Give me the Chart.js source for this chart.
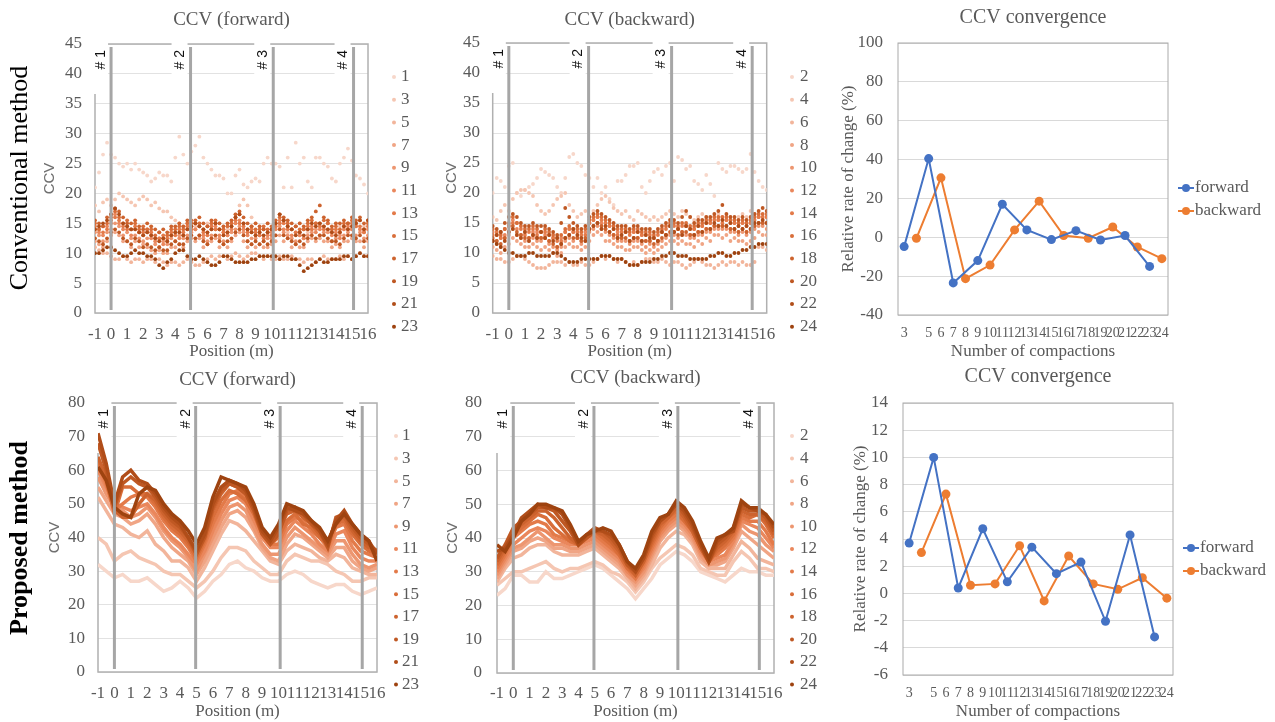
<!DOCTYPE html>
<html>
<head>
<meta charset="utf-8">
<script src="https://cdn.jsdelivr.net/npm/chart.js@4.4.0/dist/chart.umd.min.js"></script>
<style>
  html, body { margin: 0; padding: 0; background: #fff; }
  #wrap { position: relative; width: 1275px; height: 722px; overflow: hidden; background: #fff; }
  canvas { position: absolute; }
</style>
</head>
<body>
<div id="wrap">
  <canvas id="ccvConvFwd" width="420" height="362" style="left:0px;top:0px"></canvas>
  <canvas id="ccvConvBwd" width="420" height="362" style="left:420px;top:0px"></canvas>
  <canvas id="rateConv" width="445" height="362" style="left:830px;top:0px"></canvas>
  <canvas id="ccvPropFwd" width="420" height="362" style="left:0px;top:360px"></canvas>
  <canvas id="ccvPropBwd" width="420" height="362" style="left:420px;top:360px"></canvas>
  <canvas id="rateProp" width="445" height="362" style="left:830px;top:360px"></canvas>
</div>
<script>
// ---- data ----
// positions along the lane (m)
const posFine = [-1,-0.75,-0.5,-0.25,0,0.25,0.5,0.75,1,1.25,1.5,1.75,2,2.25,2.5,2.75,3,3.25,3.5,3.75,4,4.25,4.5,4.75,5,5.25,5.5,5.75,6,6.25,6.5,6.75,7,7.25,7.5,7.75,8,8.25,8.5,8.75,9,9.25,9.5,9.75,10,10.25,10.5,10.75,11,11.25,11.5,11.75,12,12.25,12.5,12.75,13,13.25,13.5,13.75,14,14.25,14.5,14.75,15,15.25,15.5,15.75,16];
const posCoarse = [-1,-0.5,0,0.5,1,1.5,2,2.5,3,3.5,4,4.5,5,5.5,6,6.5,7,7.5,8,8.5,9,9.5,10,10.5,11,11.5,12,12.5,13,13.5,14,14.5,15,15.5,16];

const fwdPasses = ['1','3','5','7','9','11','13','15','17','19','21','23'];
const bwdPasses = ['2','4','6','8','10','12','14','16','18','20','22','24'];
const sectionPos = [0, 4.95, 10.1, 15.1];
const sectionNames = ['# 1', '# 2', '# 3', '# 4'];

// conventional method, forward passes
const convF1 = [21,23.5,26.5,28.5,26.5,26,25,24.5,25,24,25,24,23.5,23,22,22.5,23.5,23,23,22,26,29.5,26.5,25,27,28,29.5,26,25,24,23,23,22.5,20,20,23,24,21.5,21,22,22.5,22,25,26,25,25,24.5,21,26,21,28.5,25,26,22,21,26,26,25,24.5,22.5,22,25,26,27.5,25.5,23,22.5,21.5,20];
const convF3 = [18,17,18.5,19,18,19,20,19.5,19,18.5,18,19,19.5,19,18,18.5,17.5,17,17,16,15.5,15,14.5,15,14,14.5,15,14,15,14.5,14,15,14.5,14,15,16.5,18,19,18,16,15,14.5,14,15,14,14.5,15,14,13.5,14,14.5,15,14,13.5,14,15,14.5,14,13.5,14,15,14.5,14,15,14.5,15,14,14.5,15];
const convF5 = [11,10.5,10,10,9.5,9,9,9.5,9,8.5,9,9,8.5,9,9,8.5,9,8.5,8,8.5,8.5,8,8.5,9,8.5,8,8,8.5,9,9.5,9,9.5,9.5,9,9.5,10,9.5,9,9.5,10,10,9.5,9,9.5,9,9,9.5,9,9,9.5,9,9,8.5,9,9,8.5,9,9.5,9,9,9,9.5,9,9.5,9,9.5,10,9.5,9.5];
const convF7 = [12,11.5,11,12,13,13.5,13,12,12,11,12,11,11.5,11,10.5,10,10.5,10,10,11,11,11.5,11,12,12.5,12,12.5,11,11.5,12,12.5,11,11.5,11,12,13,13.5,12,11,11.5,11,11.5,11,11,11.5,12,13,12,12.5,11,11.5,11,11,12,12.5,12,12.5,12,12,11,11.5,11,12,12,12.5,12,12,11,12];
const convF9 = [13.5,13,12,13.5,14,15,14.5,13,13.5,12.5,13,12.5,12,12.5,13,11.5,11,12,11.5,12.5,12,13,12.5,13,13.5,14,13,12.5,12,13,14,12.5,12,13,13.5,14,14.5,13.5,12,12.5,12.5,13,12,12.5,12.5,13,14.5,13.5,13,12.5,12,13,12.5,13,13.5,14,13,13.5,13.5,12,12.5,13,13,13.5,14,13,13.5,12.5,13];
const convF11 = [14,13.5,13,14.5,15,16.5,15,14,14.5,13,14,13.5,13,13.5,12.5,12,12.5,11.5,12,13,13.5,12.5,13,14,14.5,14,14.5,13,13.5,14,14.5,13,13.5,13,14,15,15.5,14,13,13.5,13,13.5,12.5,13,13.5,14,15.5,14,14.5,13,13.5,13,12.5,14,14.5,13.5,14,14.5,14,13,13.5,12.5,14,14.5,14,14.5,14,13.5,14];
const convF13 = [14.5,14,13.5,14,15.5,16,15.5,14.5,14,14,14.5,13.5,13.5,14,13.5,12.5,12.5,13,12.5,13.5,13,14,13.5,14.5,14,15,14.5,13.5,13,14.5,14,14,13.5,13.5,14.5,15.5,15,14.5,13.5,14,13.5,13,14,13.5,13,14.5,15,15,14,14,13.5,13.5,14,14.5,14,15,14.5,14,15,13.5,14,13.5,14.5,14,15,14.5,14.5,13.5,14.5];
const convF15 = [15,14,14.5,15,16,17,16,15,15.5,14,15,14,14.5,14,14,13,13.5,12.5,13,14,14,14.5,14,15,15.5,15,15,14,14.5,15,15.5,14,14,14.5,15,16,16.5,15,14,14.5,14,14,14.5,14,14,15,16,15.5,15,14,14.5,14,14,15,15.5,15,15,15.5,15,14,14.5,14,15,15,15.5,15,15.5,14,15];
const convF17 = [15.5,15,14.5,16,16.5,17.5,17,16,15,15,15.5,14.5,14,15,14.5,14,13.5,14,13.5,14.5,14.5,15,14.5,15.5,15,15.5,16,15,14.5,15.5,15,15,14.5,15,15.5,16.5,17,16,15,14.5,15,14.5,14,15,14.5,15.5,16.5,16,15.5,15,14.5,15,14.5,15.5,16,17,18,16,15.5,14.5,15,15,15.5,15,16,15.5,16,15,15.5];
const convF19 = [12.5,12,11.5,12.5,13.5,14,13.5,12.5,12,11.5,12.5,12,11,11.5,11,10.5,11,10.5,10.5,11.5,12,11.5,11.5,12.5,13,12.5,13,12,11.5,12.5,13,12,11.5,12,12.5,13.5,14,13,12,11.5,12,11.5,12,11.5,12,13,14,13,12.5,12,11.5,12,11.5,12.5,13,12.5,13,13,12.5,12,12,11.5,12.5,13,13,12.5,13,12,12.5];
const convF21 = [14,14.5,15,15.5,16.5,17.5,16.5,15,14.5,14,14,13.5,13,13.5,13,12.5,12,12.5,12,13,13.5,13.5,13,14,14.5,15,14.5,14,13.5,14,15,14,13,13.5,14.5,16,16.5,15,14,13.5,13,13.5,13,13.5,14,15,16.5,15.5,14.5,14,13,13.5,13,14,15,14.5,15,14.5,14,13.5,13,13.5,14.5,14,14.5,15,15.5,14,15.5];
const convF23 = [10,10,10.5,11,11,10.5,10,9.5,9.5,10,10.5,10,10,9.5,9.5,9,8,7.5,8.5,9,10,10.5,10.5,9.5,9,9,9.5,9,8.5,8,8,8.5,9.5,9.5,9,8.5,8.5,8.5,8.5,9,9,9.5,9.5,9.5,9.5,9.5,9,9.5,9.5,9,9,8,7,7.5,8,8.5,9,8.5,8.5,9,9,9,9.5,9.5,9,9.5,10,9.5,9.5];

// conventional method, backward passes
const convB2 = [20,22.5,22,21,24.5,25,20,19.5,20.5,21,21.5,22.5,24,23.5,23,22.5,21,20,22.5,26,26.5,25,24.5,23,22.5,21,22.5,20,21,19,18,22,22,23,24.5,24.5,25,21,20,22,23.5,24,23,24.5,25,22,26,25.5,24,24.5,22,21.5,20.5,23,21.5,19.5,25,24,23.5,24.5,24.5,24,23.5,24,26.5,23.5,22,21,20.5];
const convB4 = [16,15.5,17,18,17,19,20,20.5,20.5,20,19.5,18,17,16.5,17,18,19,19.5,20,18,17,16,16.5,17,16,17,18,19,19.5,18.5,17.5,17,16.5,17,16,15.5,17,16.5,16,15.5,16,15.5,16,16.5,17,16.5,16,17,16.5,16,15.5,16,16.5,16,15.5,16,16.5,16,15.5,16,15.5,16,16.5,16,17,16.5,16,15.5,16];
const convB6 = [9.5,9,9,8.5,8.5,9,9.5,9.5,9,8.5,8,7.5,7.5,7.5,8,8.5,8.5,8.5,8,8.5,8,8,8.5,8,8,8.5,9,9.5,9,9.5,9,8.5,9,8.5,8,8.5,8,8.5,9,9,8.5,8.5,9,8.5,8,8.5,8.5,8,7.5,8,8.5,9,8.5,8,8,7.5,8,8.5,8,8.5,8.5,8,8.5,8,8,8.5,11,11,10.5];
const convB8 = [11,10.5,10,11,11.5,12.5,12,11.5,11,11,11.5,11,10.5,11,10.5,10,9.5,10,11,11.5,11,11,10.5,11,12,13,13.5,13,12,12,11.5,11,11,10.5,10.5,11,11,10.5,10,10.5,10,10.5,11,11.5,12,12,11.5,12,11.5,11.5,11,12,11.5,12.5,12,13,13,12.5,13,12,12.5,12,12,11.5,12,12.5,13.5,13,13];
const convB10 = [12,11.5,11,12.5,13,14,13,12.5,12,12,12.5,12,12,12.5,11.5,11,10.5,11,12,12.5,12,12.5,11.5,12,13.5,14,14.5,14,13.5,13,12.5,12,12,12,11.5,12,12,11.5,11,11.5,11,11.5,12,12.5,13,13,12.5,13,13,12.5,12.5,13,13,13.5,13.5,14,14,14,14,13.5,13.5,13,13.5,13,13.5,14,14.5,14.5,14];
const convB12 = [13.5,12,12.5,13,14.5,15.5,14,13,13.5,12.5,13.5,13.5,12.5,13,12,12.5,11,12.5,13.5,14,13.5,12.5,12,13.5,15,15.5,16,15,14,14.5,13,13.5,12.5,13.5,12,13.5,12.5,13,12,12,12.5,12,13.5,13,14.5,13.5,14,13.5,14.5,13,14,13.5,14.5,14,15,14.5,15.5,14.5,15.5,14,15,13.5,15,13.5,15,14.5,16,15,16];
const convB14 = [13,13.5,12.5,14,14.5,15,15,14,13,13.5,14,13,13.5,13.5,13,12.5,12,12,13.5,14,13.5,13.5,13,13,15,15.5,16,15.5,15,14.5,14,13,13.5,13.5,13,13.5,13.5,13,13,13,12.5,13,13.5,14,14.5,14.5,14,14.5,14.5,14,14,14.5,14.5,15,15,15.5,15.5,15,15.5,15,15,14.5,15,14.5,15,15.5,16,16,16];
const convB16 = [14,13,13,14,15,16,15,14.5,14,14,14.5,14,13.5,14,13.5,13,12.5,13,14,14.5,14,14,13.5,14,15.5,16,16.5,16,15.5,15,14.5,14,14,14,13.5,14,14,13.5,13.5,13.5,13,13.5,14,14.5,15,15,14.5,15,15,14.5,14.5,15,15,15.5,15.5,16,16,16,16,15.5,15.5,15,15.5,15,15.5,16,16.5,16.5,16.5];
const convB18 = [12.5,12,11.5,12.5,13.5,14.5,13.5,13,12.5,12.5,13,12.5,12.5,12.5,12,11.5,11,11.5,12.5,13,12.5,12.5,12,12.5,14,14.5,15,14.5,14,13.5,13,12.5,12.5,12.5,12,12.5,12.5,12,12,12,11.5,12,12.5,13,13.5,13.5,13,13.5,13.5,13,13,13.5,13.5,14,14,14.5,14.5,14.5,14.5,14,14,13.5,14,13.5,14,14.5,15,15,15];
const convB20 = [14.5,14,13.5,15,16,16.5,16,15,14.5,14.5,15,14.5,14.5,14.5,14,13.5,13,15,17.5,16,15,14.5,14,14.5,16,16.5,17,16.5,16,15.5,15,14.5,14.5,14.5,14,14.5,14.5,14,14,14,13.5,14,14.5,15,15.5,15.5,15,16,17,16,15,15.5,15.5,16,16,16.5,17,18,16.5,16,16,15.5,16,15.5,16,16.5,17,17.5,17];
const convB22 = [12,13,13.5,12,13.5,14,13,12.5,13.5,12,13,12.5,13.5,12.5,13,12,12.5,11.5,12.5,13,14,13,12.5,12,14,14.5,15,14,14.5,13.5,14,12.5,13,13.5,12,12.5,13.5,12,13,12.5,12.5,12,13.5,13,14.5,13.5,14,13,14.5,14,13,14.5,13.5,15,14,15,14.5,15.5,14.5,15,14,14.5,14,14.5,14,15,15,15.5,15];
const convB24 = [12,11.5,11,10.5,10,10,9.5,9.5,9.5,10,10,9.5,9.5,9.5,9.5,10,10,9.5,9,8.5,8.5,8.5,9,9,9,9,9,9.5,9.5,9.5,9,9,9,8.5,8,8,8,8.5,8.5,8.5,9,9,9.5,9.5,10,10,9.5,9.5,9.5,9,9,9,9,9,9.5,9.5,10,10,9.5,9.5,10,10,10.5,10.5,11,11,11.5,11.5,11.5];

// proposed method, forward passes
const propF1 = [32,30,28,29,27,27,28,26,24,25,27,25,22,24,27,29,32,33,31,30,28,27,27,29,30,29,27,26,25,26,26,24,23,24,25];
const propF3 = [40,38,33,35,36,34,33,32,30,29,29,27,25,27,30,34,37,37,36,33,31,29,29,33,35,34,33,33,32,30,29,27,27,28,28];
const propF5 = [52,48,44,43,41,40,42,38,36,33,33,31,27,31,36,41,45,44,42,39,36,33,32,36,38,37,36,34,33,35,34,31,30,29,29];
const propF7 = [55,51,47,46,44,45,47,44,40,37,35,33,29,33,38,43,47,48,46,42,37,34,33,38,41,40,38,36,34,37,37,33,31,30,31];
const propF9 = [58,53,49,48,46,47,49,46,42,39,37,34,30,35,40,45,49,50,48,43,38,35,35,40,43,41,39,37,35,39,39,35,32,31,32];
const propF11 = [60,55,50,49,48,49,50,47,43,40,38,35,32,36,42,47,51,52,50,45,40,37,37,42,45,43,41,38,36,41,42,37,34,33,33];
const propF13 = [62,56,48,50,52,53,52,49,45,42,40,37,33,38,44,49,53,54,52,47,41,38,38,44,46,45,42,40,37,43,44,39,36,35,34];
const propF15 = [63,57,47,55,55,53,53,50,46,43,41,38,34,39,46,51,54,53,51,47,41,38,40,45,47,44,43,40,38,44,45,41,38,36,35];
const propF17 = [64,58,48,46,46,50,53,51,47,44,42,39,35,40,48,53,56,55,53,48,42,39,42,47,48,46,44,41,38,45,46,42,39,37,36];
const propF19 = [68,60,49,56,58,56,55,52,48,45,43,40,35,40,49,54,56,55,53,48,41,38,41,48,49,47,44,42,37,46,47,43,40,38,36];
const propF21 = [71,62,50,58,60,57,56,53,49,46,44,40,36,41,50,55,57,56,54,49,42,39,43,49,48,47,45,42,38,45,48,44,41,39,35];
const propF23 = [61,57,49,47,46,53,55,54,50,47,45,42,38,43,52,58,57,56,55,50,43,40,44,50,49,48,45,43,39,44,47,44,41,39,33];

// proposed method, backward passes
const propB2 = [23,25,29,29,27,27,30,28,28,29,30,31,32,31,29,27,25,22,25,28,32,34,36,35,33,30,29,28,27,29,31,30,30,29,29];
const propB4 = [26,28,30,30,31,32,33,31,30,31,31,32,33,32,30,29,27,24,27,31,34,36,38,37,35,31,30,29,29,33,36,34,31,31,30];
const propB6 = [27,31,34,35,37,38,38,36,35,35,35,36,37,35,33,31,28,25,28,32,37,40,42,41,38,33,31,31,31,35,39,37,34,33,32];
const propB8 = [28,32,36,37,39,40,39,37,37,36,36,37,38,36,34,32,29,26,29,34,39,42,44,42,39,34,32,32,33,37,42,40,38,36,34];
const propB10 = [29,33,37,38,40,42,40,38,38,37,37,38,39,37,35,33,29,27,30,35,40,43,45,43,40,35,32,33,34,38,44,42,41,38,36];
const propB12 = [30,34,38,40,42,43,42,40,39,38,38,39,40,38,36,34,30,28,31,36,41,44,46,44,41,36,33,34,35,39,45,44,43,40,37];
const propB14 = [31,35,40,42,44,45,44,41,40,39,39,40,41,39,37,35,31,28,32,37,42,45,47,45,42,37,34,35,37,40,46,45,45,42,38];
const propB16 = [32,36,41,43,45,47,46,43,41,39,38,40,42,40,38,35,31,29,33,38,43,46,48,45,42,37,33,36,38,41,47,46,47,44,40];
const propB18 = [33,37,42,44,46,48,48,46,43,40,38,40,42,41,39,36,32,29,33,39,44,46,49,46,42,37,33,37,39,42,48,47,47,45,41];
const propB20 = [34,38,43,45,47,49,49,48,45,42,38,40,42,42,40,37,32,30,34,40,45,47,50,47,43,38,33,38,40,43,49,48,48,46,42];
const propB22 = [36,37,41,46,48,50,49,49,47,43,38,41,43,42,41,38,33,30,34,41,45,47,50,48,44,38,33,39,41,42,50,49,48,47,43];
const propB24 = [38,36,40,45,47,50,50,49,48,44,39,41,42,43,42,38,33,31,35,42,46,47,51,49,45,39,34,40,41,43,51,49,49,47,44];

// relative rate of change (%) by number of compactions
const compactions = ['3','','5','6','7','8','9','10','11','12','13','14','15','16','17','18','19','20','21','22','23','24'];
const rateConvFwd = [-4.8,null,40.5,null,-23.5,null,-12,null,17,null,3.8,null,-1.2,null,3.4,null,-1.4,null,0.9,null,-15,null];
const rateConvBwd = [null,-0.5,null,30.6,null,-21.3,null,-14.3,null,3.8,null,18.6,null,0.9,null,-0.5,null,5.3,null,-5,null,-11];
const ratePropFwd = [3.7,null,10,null,0.4,null,4.75,null,0.85,null,3.4,null,1.45,null,2.3,null,-2.05,null,4.3,null,-3.2,null];
const ratePropBwd = [null,3,null,7.3,null,0.6,null,0.7,null,3.5,null,-0.55,null,2.75,null,0.7,null,0.3,null,1.15,null,-0.35];

// ---- styling ----
const serif = "'Liberation Serif', 'Times New Roman', serif";
const sans = "'Liberation Sans', Arial, sans-serif";
const grey = '#595959';
const blue = '#4472c4';
const orange = '#ed7d31';
const palette = ['#f7d7ca','#f5c6b2','#f2b59b','#f0a585','#ed9670','#ea875c','#e37a49','#d96e3a','#cd632e','#bf5823','#b04d19','#9e4310'];

Chart.defaults.font.family = serif;
Chart.defaults.color = grey;

function decor(cfg) {
  return {
    id: 'decor',
    beforeDatasetsDraw(chart) {
      const ctx = chart.ctx, a = chart.chartArea;
      ctx.save();
      ctx.strokeStyle = cfg.frameColor;
      ctx.lineWidth = cfg.frameWidth;
      ctx.strokeRect(a.left, a.top, a.right - a.left, a.bottom - a.top);
      if (cfg.sections) {
        const sx = chart.scales.x;
        sectionPos.forEach((p, i) => {
          const x = sx.getPixelForValue(p);
          ctx.fillStyle = '#fff';
          ctx.fillRect(x - 19, a.top - 2, 16, 52);
          ctx.save();
          ctx.translate(x - 10, a.top + 6);
          ctx.rotate(-Math.PI / 2);
          ctx.fillStyle = '#111';
          ctx.font = '14px ' + sans;
          ctx.textAlign = 'right';
          ctx.textBaseline = 'middle';
          ctx.fillText(sectionNames[i], 0, 0);
          ctx.restore();
        });
      }
      ctx.restore();
    },
    afterDatasetsDraw(chart) {
      if (!cfg.sections) return;
      const ctx = chart.ctx, a = chart.chartArea, sx = chart.scales.x;
      ctx.save();
      ctx.strokeStyle = '#a6a6a6';
      ctx.lineWidth = 3;
      sectionPos.forEach(p => {
        const x = sx.getPixelForValue(p);
        ctx.beginPath();
        ctx.moveTo(x, a.top + 3);
        ctx.lineTo(x, a.bottom - 3);
        ctx.stroke();
      });
      ctx.restore();
    },
    afterDraw(chart) {
      const ctx = chart.ctx, a = chart.chartArea;
      ctx.save();
      // chart title
      ctx.fillStyle = grey;
      ctx.font = cfg.titleSize + 'px ' + serif;
      ctx.textAlign = 'center';
      ctx.textBaseline = 'middle';
      ctx.fillText(cfg.title, (a.left + a.right) / 2, cfg.titleY);
      // legend
      const L = cfg.legend;
      ctx.font = '17px ' + serif;
      ctx.textAlign = 'left';
      L.items.forEach((it, i) => {
        const y = L.y0 + i * L.dy;
        ctx.fillStyle = it.color;
        ctx.strokeStyle = it.color;
        if (L.line) {
          ctx.lineWidth = 2;
          ctx.beginPath();
          ctx.moveTo(L.x, y);
          ctx.lineTo(L.x + 16, y);
          ctx.stroke();
          ctx.beginPath();
          ctx.arc(L.x + 8, y, 4, 0, Math.PI * 2);
          ctx.fill();
        } else {
          ctx.beginPath();
          ctx.arc(L.x, y, 2, 0, Math.PI * 2);
          ctx.fill();
        }
        ctx.fillStyle = grey;
        ctx.fillText(it.text, L.textX, y);
      });
      // row label
      if (cfg.rowLabel) {
        const r = cfg.rowLabel;
        ctx.save();
        ctx.translate(r.x, r.y);
        ctx.rotate(-Math.PI / 2);
        ctx.fillStyle = '#000';
        ctx.font = r.font;
        ctx.textAlign = 'center';
        ctx.textBaseline = 'middle';
        ctx.fillText(r.text, 0, 0);
        ctx.restore();
      }
      ctx.restore();
    }
  };
}

function ccvChart(id, o) {
  const g = o.geo;
  const datasets = o.series.map((ys, k) => ({
    label: o.labels[k],
    data: ys.map((v, i) => ({ x: o.xs[i], y: v })),
    showLine: o.lines,
    borderColor: palette[k],
    backgroundColor: palette[k],
    borderWidth: o.lines ? 3.5 : 0,
    pointRadius: o.lines ? 0 : 1.9,
    pointBorderWidth: 0,
    order: -k
  }));
  return new Chart(document.getElementById(id), {
    type: 'scatter',
    data: { datasets: datasets },
    options: {
      responsive: false,
      animation: false,
      devicePixelRatio: 1,
      layout: { padding: { left: g.pl, top: g.top, right: g.w - g.right, bottom: 0 } },
      plugins: { legend: { display: false }, tooltip: { enabled: false } },
      scales: {
        x: {
          type: 'linear', min: -1, max: 16,
          afterFit: s => { s.height = g.h - g.bottom; },
          grid: { display: false },
          border: { display: false },
          ticks: { stepSize: 1, autoSkip: false, maxRotation: 0, minRotation: 0, padding: g.xPad, color: grey, font: { family: serif, size: 17 } },
          title: { display: true, text: 'Position (m)', color: grey, padding: 0, font: { family: serif, size: 17 } }
        },
        y: {
          min: 0, max: o.yMax,
          afterFit: s => { s.width = g.left - g.pl; },
          grid: { color: '#e2e2e2', drawTicks: false },
          border: { display: false },
          ticks: { stepSize: o.yStep, padding: g.yPad, color: grey, font: { family: serif, size: 17 } },
          title: { display: true, text: 'CCV', color: '#6f6f6f', padding: 0, font: { family: sans, size: 15 } }
        }
      }
    },
    plugins: [decor({
      frameColor: '#b0b0b0', frameWidth: 1.5, sections: true,
      title: o.title, titleY: g.titleY, titleSize: 19,
      legend: { x: g.legX, textX: g.legTextX, y0: g.legY0, dy: g.legDy, line: false,
        items: o.labels.map((t, k) => ({ text: t, color: palette[k] })) },
      rowLabel: o.rowLabel
    })]
  });
}

function rateChart(id, o) {
  const g = o.geo;
  return new Chart(document.getElementById(id), {
    type: 'line',
    data: {
      labels: compactions,
      datasets: [
        { label: 'forward', data: o.fwd, borderColor: blue, backgroundColor: blue, borderWidth: 2, pointRadius: 4.5, pointBorderWidth: 0, spanGaps: true, tension: 0 },
        { label: 'backward', data: o.bwd, borderColor: orange, backgroundColor: orange, borderWidth: 2, pointRadius: 4.5, pointBorderWidth: 0, spanGaps: true, tension: 0 }
      ]
    },
    options: {
      responsive: false,
      animation: false,
      devicePixelRatio: 1,
      layout: { padding: { left: g.pl, top: g.top, right: g.w - g.right, bottom: 0 } },
      plugins: { legend: { display: false }, tooltip: { enabled: false } },
      scales: {
        x: {
          offset: true,
          afterFit: s => { s.height = g.h - g.bottom; },
          grid: { display: false },
          border: { display: false },
          ticks: { autoSkip: false, maxRotation: 0, minRotation: 0, padding: g.xPad, color: grey, font: { family: serif, size: 14 } },
          title: { display: true, text: 'Number of compactions', color: grey, padding: { top: 0, bottom: 0 }, font: { family: serif, size: 17 } }
        },
        y: {
          min: o.yMin, max: o.yMax,
          afterFit: s => { s.width = g.left - g.pl; },
          grid: { color: '#d9d9d9', drawTicks: false },
          border: { display: false },
          ticks: { stepSize: o.yStep, padding: g.yPad, color: grey, font: { family: serif, size: 17 } },
          title: { display: true, text: 'Relative rate of change (%)', color: grey, padding: 0, font: { family: serif, size: 17 } }
        }
      }
    },
    plugins: [decor({
      frameColor: '#aaaaaa', frameWidth: 1, sections: false,
      title: 'CCV convergence', titleY: g.titleY, titleSize: 20,
      legend: { x: g.legX, textX: g.legTextX, y0: g.legY0, dy: 23, line: true,
        items: [{ text: 'forward', color: blue }, { text: 'backward', color: orange }] }
    })]
  });
}

// ---- charts ----
ccvChart('ccvConvFwd', {
  xs: posFine, labels: fwdPasses, yMax: 45, yStep: 5, lines: false, title: 'CCV (forward)',
  series: [convF1, convF3, convF5, convF7, convF9, convF11, convF13, convF15, convF17, convF19, convF21, convF23],
  geo: { w: 420, h: 362, left: 95, top: 44, right: 368, bottom: 313, pl: 41, yPad: 13, xPad: 3, titleY: 20, legX: 394, legTextX: 401, legY0: 77, legDy: 22.7 },
  rowLabel: { text: 'Conventional method', x: 20, y: 178, font: '26px ' + serif }
});

ccvChart('ccvConvBwd', {
  xs: posFine, labels: bwdPasses, yMax: 45, yStep: 5, lines: false, title: 'CCV (backward)',
  series: [convB2, convB4, convB6, convB8, convB10, convB12, convB14, convB16, convB18, convB20, convB22, convB24],
  geo: { w: 420, h: 362, left: 72.7, top: 43, right: 346.7, bottom: 313, pl: 23, yPad: 12.7, xPad: 3, titleY: 20, legX: 372, legTextX: 380, legY0: 77, legDy: 22.7 }
});

ccvChart('ccvPropFwd', {
  xs: posCoarse, labels: fwdPasses, yMax: 80, yStep: 10, lines: true, title: 'CCV (forward)',
  series: [propF1, propF3, propF5, propF7, propF9, propF11, propF13, propF15, propF17, propF19, propF21, propF23],
  geo: { w: 420, h: 362, left: 98, top: 43, right: 377, bottom: 312, pl: 46, yPad: 13, xPad: 3, titleY: 20, legX: 396, legTextX: 402, legY0: 76, legDy: 22.6 },
  rowLabel: { text: 'Proposed method', x: 20, y: 178, font: 'bold 26px ' + serif }
});

ccvChart('ccvPropBwd', {
  xs: posCoarse, labels: bwdPasses, yMax: 80, yStep: 10, lines: true, title: 'CCV (backward)',
  series: [propB2, propB4, propB6, propB8, propB10, propB12, propB14, propB16, propB18, propB20, propB22, propB24],
  geo: { w: 420, h: 362, left: 77, top: 43, right: 354, bottom: 313, pl: 24, yPad: 15, xPad: 2, titleY: 18, legX: 372, legTextX: 380, legY0: 76, legDy: 22.6 }
});

rateChart('rateConv', {
  fwd: rateConvFwd, bwd: rateConvBwd, yMin: -40, yMax: 100, yStep: 20,
  geo: { w: 445, h: 362, left: 68, top: 43, right: 338, bottom: 315, pl: 8, yPad: 15, xPad: 1.5, titleY: 18, legX: 348, legTextX: 365, legY0: 188 }
});

rateChart('rateProp', {
  fwd: ratePropFwd, bwd: ratePropBwd, yMin: -6, yMax: 14, yStep: 2,
  geo: { w: 445, h: 362, left: 73, top: 43, right: 343, bottom: 315, pl: 20, yPad: 15, xPad: 1.5, titleY: 17, legX: 353, legTextX: 370, legY0: 188 }
});
</script>
</body>
</html>
